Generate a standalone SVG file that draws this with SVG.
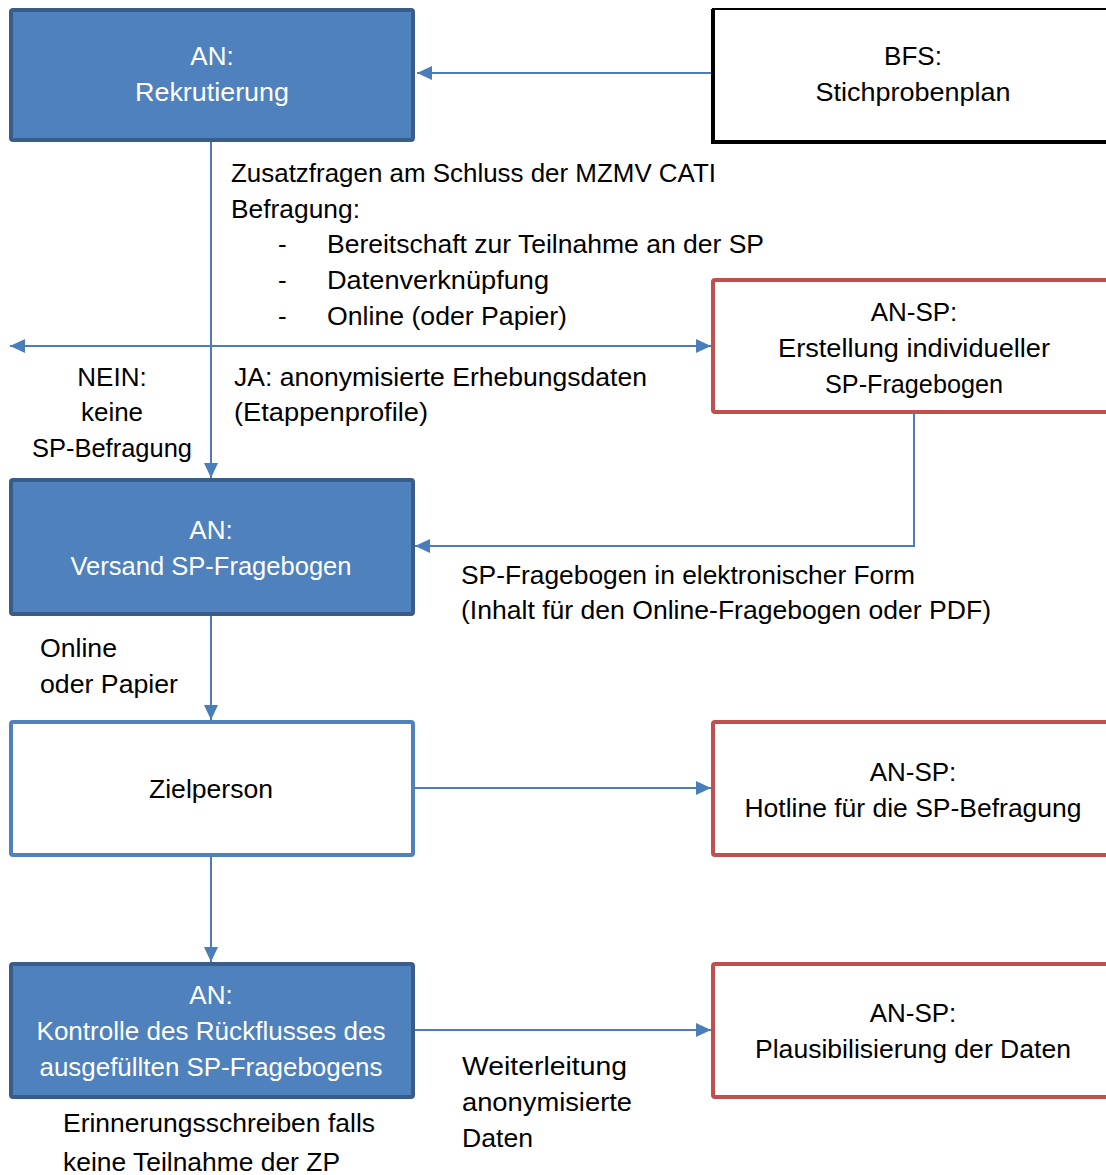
<svg xmlns="http://www.w3.org/2000/svg" width="1106" height="1175" viewBox="0 0 1106 1175">
<style>
text{font-family:"Liberation Sans",Arial,sans-serif;font-size:26px;fill:#000}
.w{fill:#fff}
.c{text-anchor:middle}
.bf{fill:#4F81BD;stroke:#385D8A;stroke-width:4}
.bw{fill:#fff;stroke:#4F81BD;stroke-width:4}
.rw{fill:#fff;stroke:#C0504D;stroke-width:4}
.con{fill:none;stroke:#4A7EBB;stroke-width:2}
</style>
<defs>
<marker id="ah" markerUnits="userSpaceOnUse" markerWidth="16" markerHeight="14" refX="15" refY="7" orient="auto">
<path d="M0,0 L15,7 L0,14 Z" fill="#4A7EBB"/>
</marker>
</defs>
<rect width="1106" height="1175" fill="#fff"/>
<g id="connectors">
<path class="con" d="M711,73 H417" marker-end="url(#ah)"/>
<path class="con" d="M211,142 V478" marker-end="url(#ah)"/>
<path class="con" d="M211,346 H10" marker-end="url(#ah)"/>
<path class="con" d="M211,346 H711" marker-end="url(#ah)"/>
<path class="con" d="M914,414 V546 H415" marker-end="url(#ah)"/>
<path class="con" d="M211,616 V720" marker-end="url(#ah)"/>
<path class="con" d="M415,788 H711" marker-end="url(#ah)"/>
<path class="con" d="M211,857 V962" marker-end="url(#ah)"/>
<path class="con" d="M415,1030 H711" marker-end="url(#ah)"/>
</g>
<g id="labels">
<text x="231" y="182" textLength="485" lengthAdjust="spacingAndGlyphs">Zusatzfragen am Schluss der MZMV CATI</text>
<text x="231" y="218" textLength="129" lengthAdjust="spacingAndGlyphs">Befragung:</text>
<text x="278" y="253">-</text>
<text x="327" y="253" textLength="437" lengthAdjust="spacingAndGlyphs">Bereitschaft zur Teilnahme an der SP</text>
<text x="278" y="289">-</text>
<text x="327" y="289" textLength="222" lengthAdjust="spacingAndGlyphs">Datenverknüpfung</text>
<text x="278" y="325">-</text>
<text x="327" y="325" textLength="240" lengthAdjust="spacingAndGlyphs">Online (oder Papier)</text>
<text class="c" x="112" y="386">NEIN:</text>
<text class="c" x="112" y="421">keine</text>
<text class="c" x="112" y="457" textLength="160" lengthAdjust="spacingAndGlyphs">SP-Befragung</text>
<text x="234" y="386" textLength="413" lengthAdjust="spacingAndGlyphs">JA: anonymisierte Erhebungsdaten</text>
<text x="234" y="421" textLength="194" lengthAdjust="spacingAndGlyphs">(Etappenprofile)</text>
<text x="461" y="584" textLength="454" lengthAdjust="spacingAndGlyphs">SP-Fragebogen in elektronischer Form</text>
<text x="461" y="619" textLength="530" lengthAdjust="spacingAndGlyphs">(Inhalt für den Online-Fragebogen oder PDF)</text>
<text x="40" y="657" textLength="77" lengthAdjust="spacingAndGlyphs">Online</text>
<text x="40" y="693" textLength="138" lengthAdjust="spacingAndGlyphs">oder Papier</text>
<text x="462" y="1075" textLength="165" lengthAdjust="spacingAndGlyphs">Weiterleitung</text>
<text x="462" y="1111" textLength="170" lengthAdjust="spacingAndGlyphs">anonymisierte</text>
<text x="462" y="1147" textLength="71" lengthAdjust="spacingAndGlyphs">Daten</text>
<text x="63" y="1132" textLength="312" lengthAdjust="spacingAndGlyphs">Erinnerungsschreiben falls</text>
<text x="63" y="1171" textLength="277" lengthAdjust="spacingAndGlyphs">keine Teilnahme der ZP</text>
</g>
<g id="n-rekrutierung">
<rect class="bf" x="11" y="10" width="402" height="130" rx="2"/>
<text class="c w" x="212" y="65">AN:</text>
<text class="c w" x="212" y="101" textLength="154" lengthAdjust="spacingAndGlyphs">Rekrutierung</text>
</g>
<g id="n-bfs">
<rect x="713" y="9" width="420" height="132" fill="#fff" stroke="#000" stroke-width="2"/>
<path d="M713,9 V142 H1110" fill="none" stroke="#000" stroke-width="4"/>
<text class="c" x="913" y="65">BFS:</text>
<text class="c" x="913" y="101" textLength="195" lengthAdjust="spacingAndGlyphs">Stichprobenplan</text>
</g>
<g id="n-erstellung">
<rect class="rw" x="713" y="280" width="420" height="132" rx="2"/>
<text class="c" x="914" y="321">AN-SP:</text>
<text class="c" x="914" y="357" textLength="272" lengthAdjust="spacingAndGlyphs">Erstellung individueller</text>
<text class="c" x="914" y="393" textLength="178" lengthAdjust="spacingAndGlyphs">SP-Fragebogen</text>
</g>
<g id="n-versand">
<rect class="bf" x="11" y="480" width="402" height="134" rx="2"/>
<text class="c w" x="211" y="539">AN:</text>
<text class="c w" x="211" y="575" textLength="281" lengthAdjust="spacingAndGlyphs">Versand SP-Fragebogen</text>
</g>
<g id="n-zielperson">
<rect class="bw" x="11" y="722" width="402" height="133" rx="2"/>
<text class="c" x="211" y="798" textLength="124" lengthAdjust="spacingAndGlyphs">Zielperson</text>
</g>
<g id="n-hotline">
<rect class="rw" x="713" y="722" width="420" height="133" rx="2"/>
<text class="c" x="913" y="781">AN-SP:</text>
<text class="c" x="913" y="817" textLength="337" lengthAdjust="spacingAndGlyphs">Hotline für die SP-Befragung</text>
</g>
<g id="n-kontrolle">
<rect class="bf" x="11" y="964" width="402" height="133" rx="2"/>
<text class="c w" x="211" y="1004">AN:</text>
<text class="c w" x="211" y="1040" textLength="349" lengthAdjust="spacingAndGlyphs">Kontrolle des Rückflusses des</text>
<text class="c w" x="211" y="1076" textLength="343" lengthAdjust="spacingAndGlyphs">ausgefüllten SP-Fragebogens</text>
</g>
<g id="n-plausibilisierung">
<rect class="rw" x="713" y="964" width="420" height="133" rx="2"/>
<text class="c" x="913" y="1022">AN-SP:</text>
<text class="c" x="913" y="1058" textLength="316" lengthAdjust="spacingAndGlyphs">Plausibilisierung der Daten</text>
</g>
</svg>
